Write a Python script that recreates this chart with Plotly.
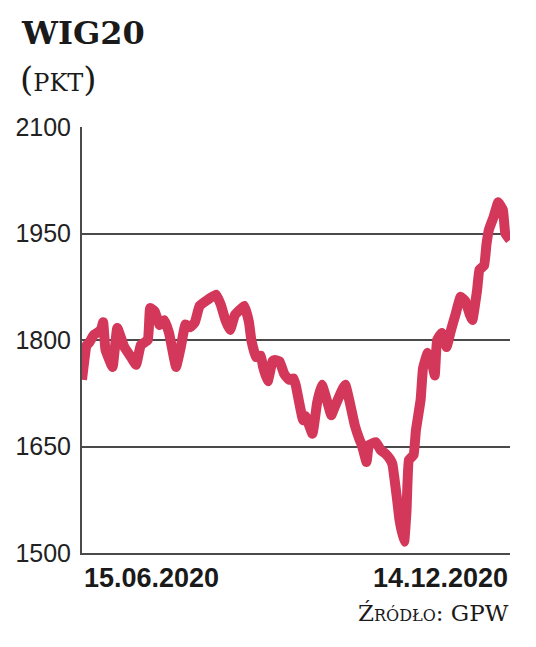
import datetime as dt
import plotly.graph_objects as go

# Day offsets from 15.06.2020 and WIG20 values (points)
start = dt.date(2020, 6, 15)
day_offsets = [0, 2, 3, 5, 8, 9, 10, 13, 15, 18, 21, 23, 25, 28, 29, 31, 33, 35, 37, 40,
               42, 44, 46, 48, 50, 54, 57, 59, 61, 63, 65, 67, 69, 71, 72, 74, 76, 77, 79, 81,
               82, 84, 86, 88, 90, 91, 94, 95, 98, 100, 102, 105, 106, 108, 111, 112, 114, 116, 118, 119,
               121, 122, 125, 127, 129, 131, 132, 134, 135, 137, 138, 139, 141, 142, 144, 145, 147, 149, 150, 151,
               153, 155, 157, 159, 161, 163, 165, 166, 168, 169, 171, 172, 173, 175, 177, 179, 180, 182]
values = [1744, 1793, 1796, 1807, 1814, 1825, 1786, 1762, 1817, 1790, 1775, 1765, 1793, 1800, 1845, 1840, 1821, 1828, 1810, 1762,
          1790, 1822, 1818, 1825, 1848, 1858, 1864, 1850, 1828, 1814, 1835, 1842, 1848, 1825, 1800, 1776, 1778, 1762, 1742, 1770,
          1772, 1770, 1752, 1744, 1746, 1735, 1687, 1693, 1668, 1712, 1737, 1705, 1694, 1710, 1732, 1737, 1710, 1680, 1660, 1652,
          1628, 1652, 1656, 1645, 1640, 1632, 1625, 1575, 1547, 1516, 1560, 1631, 1638, 1673, 1716, 1760, 1782, 1765, 1750, 1800,
          1810, 1790, 1815, 1838, 1861, 1855, 1835, 1828, 1870, 1899, 1905, 1935, 1955, 1973, 1994, 1983, 1950, 1941]
dates = [start + dt.timedelta(days=d) for d in day_offsets]

y_ticks = [1500, 1650, 1800, 1950, 2100]
x_labels = ["15.06.2020", "14.12.2020"]
title = "WIG20"
unit = "PKT"
source = "Źródło: GPW"

LINE = "#D3385A"
GRID = "#4a4a4a"
TEXT = "#1a1a1a"

fig = go.Figure()
fig.add_trace(go.Scatter(x=dates, y=values, mode="lines",
                         line=dict(color=LINE, width=10, shape="spline", smoothing=0.3),
                         hoverinfo="skip"))

W, H = 536, 647
L, R, T, B = 82, 26, 127, 94
pw, ph = W - L - R, H - T - B

def px(x):
    return (x - L) / pw

def py(y):
    return (H - B - y) / ph

fig.update_layout(
    width=W, height=H,
    margin=dict(l=L, r=R, t=T, b=B, pad=0),
    paper_bgcolor="white", plot_bgcolor="white",
    showlegend=False,
    xaxis=dict(range=[dates[0], dates[-1]], showgrid=False, showticklabels=False,
               showline=True, linecolor=GRID, linewidth=2, zeroline=False, ticks=""),
    yaxis=dict(range=[1500, 2100], tickvals=y_ticks, showgrid=True, gridcolor=GRID, gridwidth=2,
               showline=True, linecolor=GRID, linewidth=2, zeroline=False, ticks="",
               ticklabelstandoff=4,
               tickfont=dict(family="Liberation Sans Narrow, Liberation Sans, sans-serif", size=25, color="#222")),
    annotations=[
        dict(text=title, xref="paper", yref="paper", x=px(19), y=py(33), xanchor="left", yanchor="middle",
             showarrow=False, font=dict(family="DejaVu Serif", size=32, color=TEXT, weight="bold")),
        dict(text="(<span style='font-size:24px'>" + unit + "</span>)", xref="paper", yref="paper",
             x=px(18), y=py(79), xanchor="left", yanchor="middle",
             showarrow=False, font=dict(family="DejaVu Serif", size=34, color=TEXT)),
        dict(text=x_labels[0], xref="paper", yref="paper", x=0, y=py(578), xanchor="left", yanchor="middle",
             showarrow=False, font=dict(family="Liberation Sans Narrow, Liberation Sans, sans-serif", size=27, color=TEXT, weight="bold")),
        dict(text=x_labels[1], xref="paper", yref="paper", x=1, y=py(578), xanchor="right", yanchor="middle",
             showarrow=False, font=dict(family="Liberation Sans Narrow, Liberation Sans, sans-serif", size=27, color=TEXT, weight="bold")),
        dict(text=source, xref="paper", yref="paper", x=px(511), y=py(613), xanchor="right", yanchor="middle",
             showarrow=False, font=dict(family="DejaVu Serif", size=23, color=TEXT, variant="small-caps")),
    ],
)

fig.write_html("out.html", config={"displayModeBar": False},
               post_script="document.body.style.margin='0';document.body.style.padding='0';document.body.style.overflow='hidden';")
